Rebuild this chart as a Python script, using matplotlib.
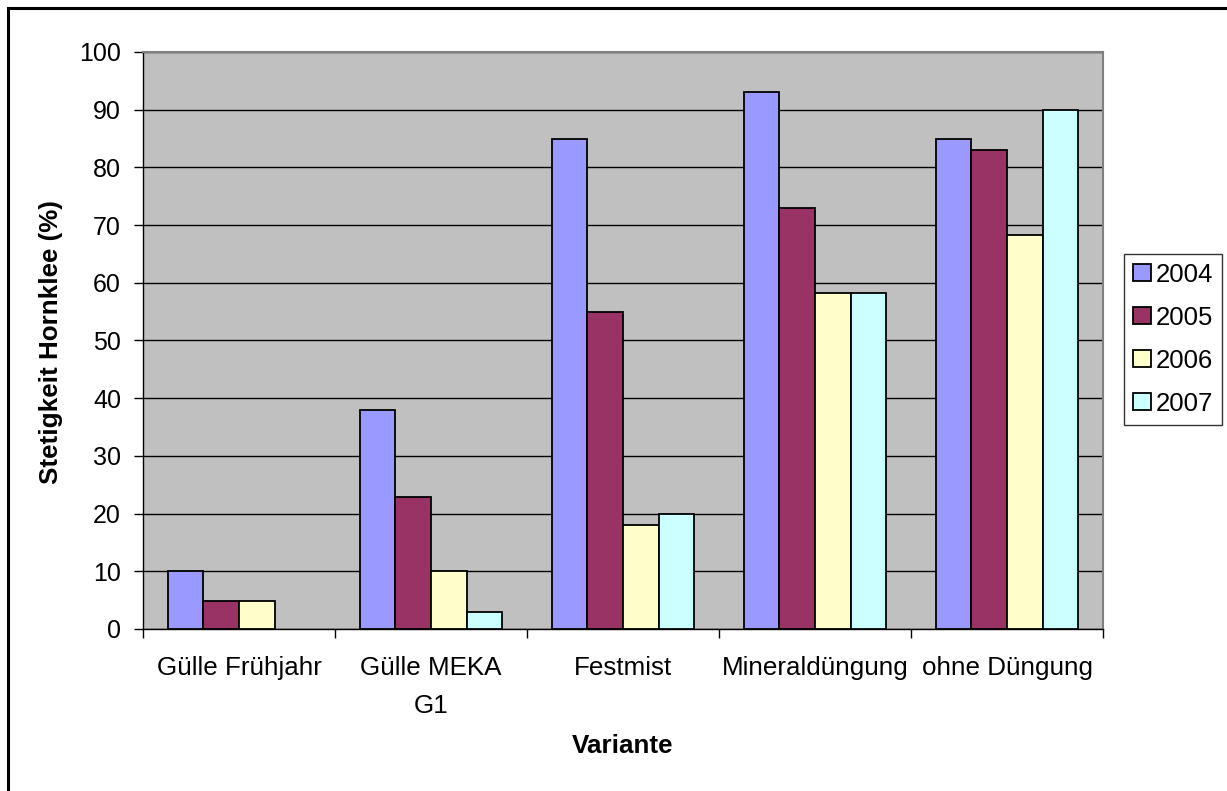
import matplotlib.pyplot as plt
import matplotlib.patches as mpatches
import numpy as np

plt.rcParams['font.family'] = ['Liberation Sans', 'DejaVu Sans']

# Stetigkeit Hornklee je Variante und Jahr
varianten = ['Gülle Frühjahr', 'Gülle MEKA\nG1', 'Festmist', 'Mineraldüngung', 'ohne Düngung']
jahre = ['2004', '2005', '2006', '2007']
werte_2004 = [10, 38, 85, 93, 85]
werte_2005 = [4.8, 22.8, 55, 73, 83]
werte_2006 = [4.8, 10, 18, 58.3, 68.3]
werte_2007 = [0, 3, 20, 58.3, 90]
farben = ['#9999FF', '#993366', '#FFFFCC', '#CCFFFF']

W, H = 1227, 791
fig = plt.figure(figsize=(W / 100, H / 100), dpi=100)
ax = fig.add_axes([143 / W, 1 - 629 / H, (1103 - 143) / W, (629 - 52) / H])
ax.set_facecolor('#C0C0C0')

x = np.arange(len(varianten))
breite = 0.186
for i, (serie, farbe) in enumerate(zip([werte_2004, werte_2005, werte_2006, werte_2007], farben)):
    ax.bar(x + (i - 1.5) * breite, serie, breite, color=farbe, edgecolor='black',
           linewidth=[1.3 if v > 0 else 0 for v in serie], zorder=3)

ax.set_xlim(-0.5, len(varianten) - 0.5)
ax.set_ylim(0, 100)
ax.set_yticks(range(0, 101, 10))
ax.yaxis.grid(True, color='black', linewidth=1.0, zorder=1)
ax.set_axisbelow(True)

ax.set_xticks(x)
ax.set_xticklabels(varianten, linespacing=1.75)
ax.set_xticks(np.arange(-0.5, len(varianten)), minor=True)
ax.tick_params(axis='x', which='major', length=0, pad=19.5, labelsize=18.7)
ax.tick_params(axis='x', which='minor', length=6.5, width=1.0, direction='out')
ax.tick_params(axis='y', length=6.5, width=1.0, direction='out', labelsize=18, pad=9.4)

for s in ['top', 'right']:
    ax.spines[s].set_color('#808080')
    ax.spines[s].set_linewidth(1.5)
for s in ['left', 'bottom']:
    ax.spines[s].set_color('black')
    ax.spines[s].set_linewidth(1.0)

fig.text(51 / W, 1 - 342 / H, 'Stetigkeit Hornklee (%)', rotation=90, fontsize=18.7,
         fontweight='bold', ha='center', va='center')
fig.text(623 / W, 1 - 746 / H, 'Variante', fontsize=18.7, fontweight='bold',
         ha='center', va='center')

handles = [mpatches.Patch(facecolor=f, edgecolor='black', linewidth=1.3, label=j)
           for f, j in zip(farben, jahre)]
leg = ax.legend(handles=handles, loc='upper left', bbox_to_anchor=(1124 / W, 1 - 254 / H),
                bbox_transform=fig.transFigure, fontsize=18.5, frameon=True,
                fancybox=False, edgecolor='black', handlelength=0.7, handleheight=0.65,
                handletextpad=0.2, labelspacing=0.74, borderpad=0.34, borderaxespad=0)
leg.get_frame().set_linewidth(1.0)

# Rahmen um das gesamte Diagramm
fig.patches.append(mpatches.Rectangle((8 / W, -0.1), 1.2, 1 - 8 / H + 0.1,
                                      transform=fig.transFigure, fill=False,
                                      edgecolor='black', linewidth=2.2))

fig.savefig('out.png', dpi=100)
